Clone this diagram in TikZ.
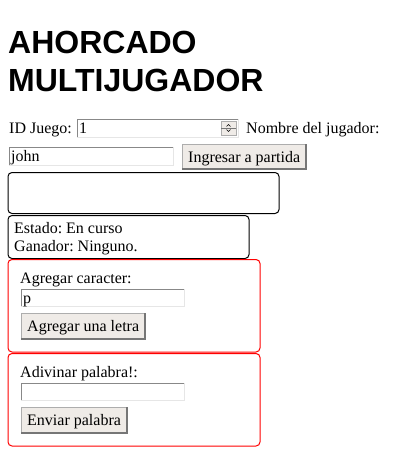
\documentclass[tikz,border=0pt]{standalone}
\usepackage{fontspec}
\setmainfont{Liberation Serif}
\newfontfamily\titlefont{Liberation Sans}
\frenchspacing
\definecolor{btnfill}{HTML}{EFEBE7}
\definecolor{btndark}{HTML}{767676}
\definecolor{inlight}{HTML}{E6E6E6}
\definecolor{indark}{HTML}{888888}
\begin{document}
\begin{tikzpicture}[x=1pt,y=-1pt,
  txt/.style={anchor=base west,inner sep=0pt,font=\frenchspacing\fontsize{16}{19}\selectfont},
  ttl/.style={anchor=base west,inner sep=0pt,font=\titlefont\bfseries\fontsize{32}{38}\selectfont},
  blackbox/.style={draw=black,line width=1pt,rounded corners=4pt},
  redbox/.style={draw=red,line width=1pt,rounded corners=4pt},
  inbox/.style={draw=inlight,fill=white,line width=1pt},
  btn/.style={draw=btndark!60,fill=btnfill,line width=1pt}]
\useasboundingbox (0,0) rectangle (400,455);
\fill[white] (0,0) rectangle (400,455);
% title
\node[ttl] (t1) at (8,53) {AHORCADO};
\node[ttl] (t2) at (8,91) {MULTIJUGADOR};
% row 1
\node[txt] (idl) at (9,133) {ID Juego:};
\draw[inbox] (77,119) rectangle (238,137);
\draw[indark,line width=1pt] (77,137) -- (77,119) -- (238,119);
\node[txt] (idv) at (79,133) {1};
\draw[btn,line width=0.6pt] (221,121) rectangle (236,135);
\draw[line width=0.5pt] (226.5,126.5) -- (228.5,124.5) -- (230.5,126.5);
\draw[line width=0.5pt] (226.5,129.5) -- (228.5,131.5) -- (230.5,129.5);
\draw[btndark,line width=0.4pt] (221,128) -- (236,128);
\node[txt] (nl) at (246,133) {Nombre del jugador:};
% row 2
\draw[inbox] (9,147) rectangle (173,165);
\draw[indark,line width=1pt] (9,165) -- (9,147) -- (173,147);
\node[txt] (nv) at (11,161) {john};
\draw[btn] (182,144) rectangle (306,169);
\draw[btndark,line width=1.2pt] (182,169) -- (306,169) -- (306,144);
\node[txt] (b1) at (188,162) {Ingresar a partida};
% empty box
\draw[blackbox] (8,172.5) rectangle (279,213.5);
% status box
\draw[blackbox] (8,215.5) rectangle (249,258.5);
\node[txt] (e1) at (14,233) {Estado: En curso};
\node[txt] (e2) at (14,251) {Ganador: Ninguno.};
% red box 1
\draw[redbox] (8,259.5) rectangle (260,352);
\node[txt] (a1) at (20,283) {Agregar caracter:};
\draw[inbox] (21,289) rectangle (184,306);
\draw[indark,line width=1pt] (21,306) -- (21,289) -- (184,289);
\node[txt] (av) at (23,303) {p};
\draw[btn] (21,313) rectangle (145,339);
\draw[btndark,line width=1.2pt] (21,339) -- (145,339) -- (145,313);
\node[txt] (b2) at (27,331) {Agregar una letra};
% red box 2
\draw[redbox] (8,353.5) rectangle (260,446);
\node[txt] (p1) at (20,377) {Adivinar palabra!:};
\draw[inbox] (21,383) rectangle (184,400);
\draw[indark,line width=1pt] (21,400) -- (21,383) -- (184,383);
\draw[btn] (21,407) rectangle (127,433);
\draw[btndark,line width=1.2pt] (21,433) -- (127,433) -- (127,407);
\node[txt] (b3) at (27,425) {Enviar palabra};
\end{tikzpicture}
\end{document}
